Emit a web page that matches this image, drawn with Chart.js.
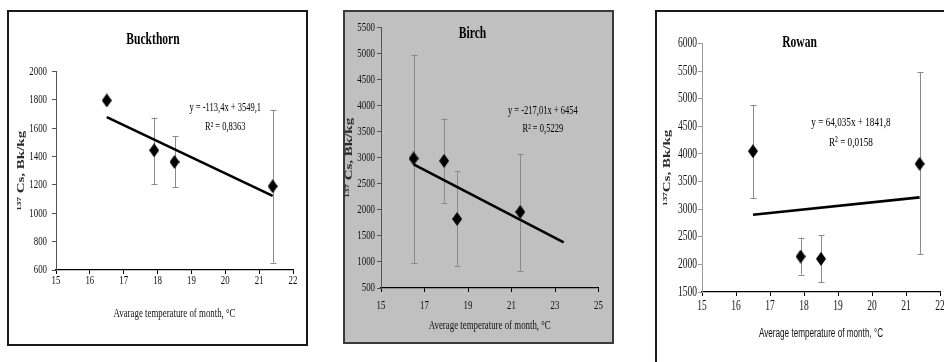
<!DOCTYPE html>
<html>
<head>
<meta charset="utf-8">
<script src="https://cdn.jsdelivr.net/npm/chart.js@4.4.1/dist/chart.umd.min.js"></script>
<style>
  html, body { margin: 0; padding: 0; background: #fff; width: 944px; height: 362px; overflow: hidden; }
  .panel { position: absolute; box-sizing: content-box; }
  .panel canvas { display: block; }
  #p1 { left: 7px; top: 10px; border: 2px solid #1a1a1a; background: #fff; }
  #p2 { left: 343px; top: 10px; border: 2px solid #3a3a3a; background: #c0c0c0; }
  #p3 { left: 655px; top: 10px; border: 2px solid #1a1a1a; border-bottom: none; border-right: none; background: #fff; }
</style>
</head>
<body>
<div class="panel" id="p1"><canvas id="c1" width="297" height="332"></canvas></div>
<div class="panel" id="p2"><canvas id="c2" width="267" height="330"></canvas></div>
<div class="panel" id="p3"><canvas id="c3" width="300" height="370"></canvas></div>
<script>
// ---------------- data ----------------
const temps = [16.5, 17.9, 18.5, 21.4];

const buckthornCs      = [1795, 1444, 1362, 1190];
const buckthornErrLow  = [null, 1205, 1182, 651];
const buckthornErrHigh = [null, 1674, 1545, 1726];

const birchCs      = [2985, 2940, 1825, 1960];
const birchErrLow  = [977, 2136, 913, 830];
const birchErrHigh = [4978, 3750, 2748, 3065];

const rowanCs      = [4048, 2142, 2100, 3820];
const rowanErrLow  = [3199, 1814, 1680, 2181];
const rowanErrHigh = [4887, 2484, 2524, 5476];

// trend lines as printed on the charts: y = slope * x + intercept
const trendSlope     = [-113.4, -217.01, 64.035];
const trendIntercept = [3549.1, 6454, 1841.8];
const trendFrom      = [16.5, 16.5, 16.5];
const trendTo        = [21.4, 23.4, 21.4];

const equationText = [
  ['y = -113,4x + 3549,1', 'R\u00B2 = 0,8363'],
  ['y = -217,01x + 6454', 'R\u00B2 = 0,5229'],
  ['y = 64,035x + 1841,8', 'R\u00B2 = 0,0158']
];

const titles = ['Buckthorn', 'Birch', 'Rowan'];
const xTitles = ['Avarage temperature of month, \u00B0C', 'Average temperature of month, \u00B0C', 'Average temperature of month, \u00B0C'];
const yTitles = ['\u00B9\u00B3\u2077 Cs, Bk/kg', '\u00B9\u00B3\u2077 Cs, Bk/kg', '\u00B9\u00B3\u2077Cs, Bk/kg'];

const buckthornXTicks = [15, 16, 17, 18, 19, 20, 21, 22];
const buckthornYTicks = [600, 800, 1000, 1200, 1400, 1600, 1800, 2000];
const birchXTicks = [15, 17, 19, 21, 23, 25];
const birchYTicks = [500, 1000, 1500, 2000, 2500, 3000, 3500, 4000, 4500, 5000, 5500];
const rowanXTicks = [15, 16, 17, 18, 19, 20, 21, 22];
const rowanYTicks = [1500, 2000, 2500, 3000, 3500, 4000, 4500, 5000, 5500, 6000];

// ---------------- helpers ----------------
const SX = 0.68; // the source figure is horizontally squeezed
function squeezeText(canvas) {
  const ctx = canvas.getContext('2d');
  const orig = ctx.fillText.bind(ctx);
  ctx.fillText = function (t, x, y, mw) {
    const m = this.getTransform();
    const rotated = Math.abs(m.b) > Math.abs(m.a);
    this.save();
    this.translate(x, y);
    if (rotated) this.scale(1, SX); else this.scale(SX, 1);
    if (mw !== undefined && !rotated) orig(t, 0, 0, mw / SX);
    else if (mw !== undefined) orig(t, 0, 0, mw);
    else orig(t, 0, 0);
    this.restore();
  };
}

function diamond(w, h) {
  const c = document.createElement('canvas');
  c.width = w; c.height = h;
  const g = c.getContext('2d');
  g.fillStyle = '#000';
  g.beginPath();
  g.moveTo(w / 2, 0); g.lineTo(w, h / 2); g.lineTo(w / 2, h); g.lineTo(0, h / 2);
  g.closePath(); g.fill();
  return c;
}
const diamondImg = diamond(10, 14);

const errorBarsPlugin = {
  id: 'errorBars',
  beforeDatasetsDraw(chart) {
    const o = chart.options.plugins.errorBars;
    if (!o) return;
    const { ctx, scales: { x, y } } = chart;
    ctx.save();
    ctx.strokeStyle = o.color;
    ctx.lineWidth = 1;
    for (let i = 0; i < o.xs.length; i++) {
      if (o.lo[i] == null || o.hi[i] == null) continue;
      const px = Math.round(x.getPixelForValue(o.xs[i])) + 0.5;
      const pt = y.getPixelForValue(o.hi[i]);
      const pb = y.getPixelForValue(o.lo[i]);
      ctx.beginPath();
      ctx.moveTo(px, pt); ctx.lineTo(px, pb);
      ctx.moveTo(px - o.cap, Math.round(pt) + 0.5); ctx.lineTo(px + o.cap, Math.round(pt) + 0.5);
      ctx.moveTo(px - o.cap, Math.round(pb) + 0.5); ctx.lineTo(px + o.cap, Math.round(pb) + 0.5);
      ctx.stroke();
    }
    ctx.restore();
  }
};

const equationPlugin = {
  id: 'equation',
  afterDatasetsDraw(chart) {
    const o = chart.options.plugins.equation;
    if (!o) return;
    const { ctx, scales: { x, y } } = chart;
    const px = x.getPixelForValue(o.at[0]);
    const py = y.getPixelForValue(o.at[1]);
    ctx.save();
    ctx.fillStyle = '#000';
    ctx.font = o.font;
    ctx.textAlign = 'center';
    ctx.textBaseline = 'middle';
    o.lines.forEach((t, i) => ctx.fillText(t, px, py + i * o.gap));
    ctx.restore();
  }
};

const SERIF = "'Liberation Serif', 'Times New Roman', serif";

function buildChart(canvasId, cfg) {
  const canvas = document.getElementById(canvasId);
  squeezeText(canvas);
  const i = cfg.index;
  const trend = [trendFrom[i], trendTo[i]].map(v => ({ x: v, y: trendSlope[i] * v + trendIntercept[i] }));
  const pts = temps.map((t, k) => ({ x: t, y: cfg.values[k] }));
  return new Chart(canvas, {
    type: 'scatter',
    data: {
      datasets: [
        {
          type: 'line', data: trend, borderColor: '#000', borderWidth: 2.6,
          pointRadius: 0, fill: false, tension: 0, order: 2
        },
        {
          data: pts, pointStyle: diamondImg, pointRadius: 7, pointHoverRadius: 7,
          backgroundColor: '#000', borderColor: '#000', order: 1
        }
      ]
    },
    options: {
      responsive: false,
      animation: false,
      devicePixelRatio: 1,
      events: [],
      layout: { padding: cfg.padding },
      plugins: {
        legend: { display: false },
        tooltip: { enabled: false },
        title: {
          display: true, text: titles[i], color: '#000',
          font: { family: SERIF, size: 17, weight: 'bold', lineHeight: 1.2 },
          padding: cfg.titlePad
        },
        errorBars: { xs: temps, lo: cfg.lo, hi: cfg.hi, color: '#8a8a8a', cap: 3 },
        equation: { lines: equationText[i], at: cfg.eqAt, gap: cfg.eqGap, font: cfg.eqFont }
      },
      scales: {
        x: {
          type: 'linear',
          min: cfg.xTicks[0], max: cfg.xTicks[cfg.xTicks.length - 1],
          afterBuildTicks: s => { s.ticks = cfg.xTicks.map(v => ({ value: v })); },
          border: { color: '#000', width: 1.3 },
          grid: { display: true, drawOnChartArea: false, drawTicks: true, tickLength: 4, color: '#000' },
          ticks: {
            color: '#111', padding: cfg.xTickPad, maxRotation: 0, autoSkip: false,
            callback: v => String(v),
            font: { family: SERIF, size: cfg.tickSize, lineHeight: 1 }
          },
          title: {
            display: true, text: xTitles[i], color: '#111', padding: 0,
            font: { family: cfg.xTitleFamily, size: cfg.xTitleSize, lineHeight: 1.2 }
          },
          afterFit: s => { s.height = cfg.xHeight; }
        },
        y: {
          type: 'linear',
          min: cfg.yTicks[0], max: cfg.yTicks[cfg.yTicks.length - 1],
          afterBuildTicks: s => { s.ticks = cfg.yTicks.map(v => ({ value: v })); },
          border: { color: cfg.yAxisColor, width: 1 },
          grid: { display: true, drawOnChartArea: false, drawTicks: true, tickLength: 4, color: cfg.yAxisColor },
          ticks: {
            color: '#111', padding: cfg.yTickPad,
            callback: v => String(v),
            font: { family: SERIF, size: cfg.tickSize, lineHeight: 1 }
          },
          title: {
            display: true, text: yTitles[i], color: '#2a2a2a', padding: { top: cfg.yTitlePad, bottom: 0 },
            font: { family: SERIF, size: 15, weight: 'bold', lineHeight: 1.1 }
          },
          afterFit: s => { s.width = cfg.yWidth; }
        }
      }
    },
    plugins: [errorBarsPlugin, equationPlugin]
  });
}

buildChart('c1', {
  index: 0, values: buckthornCs, lo: buckthornErrLow, hi: buckthornErrHigh,
  xTicks: buckthornXTicks, yTicks: buckthornYTicks,
  padding: { left: 4, right: 13, top: 0, bottom: 23 },
  titlePad: { top: 17, bottom: 22 },
  yWidth: 43, xHeight: 51, xTickPad: 0, yTickPad: 5, tickSize: 13, yTitlePad: 0,
  yAxisColor: '#555',
  xTitleFamily: SERIF, xTitleSize: 13,
  eqAt: [20.0, 1747], eqGap: 19, eqFont: "12.5px 'Liberation Serif', serif"
});

buildChart('c2', {
  index: 1, values: birchCs, lo: birchErrLow, hi: birchErrHigh,
  xTicks: birchXTicks, yTicks: birchYTicks,
  padding: { left: 0, right: 12, top: 0, bottom: 9 },
  titlePad: { top: 11, bottom: -16 },
  yWidth: 36, xHeight: 45, xTickPad: 7, yTickPad: 2, tickSize: 13, yTitlePad: -3.5,
  yAxisColor: '#555',
  xTitleFamily: SERIF, xTitleSize: 13,
  eqAt: [22.44, 3910], eqGap: 18, eqFont: "12.5px 'Liberation Serif', serif"
});

buildChart('c3', {
  index: 2, values: rowanCs, lo: rowanErrLow, hi: rowanErrHigh,
  xTicks: rowanXTicks, yTicks: rowanYTicks,
  padding: { left: 2, right: 17, top: 0, bottom: 41 },
  titlePad: { top: 20, bottom: -9 },
  yWidth: 43, xHeight: 49, xTickPad: 3, yTickPad: 1, tickSize: 14, yTitlePad: 0,
  yAxisColor: '#9a9a9a',
  xTitleFamily: "'Liberation Sans', Arial, sans-serif", xTitleSize: 12,
  eqAt: [19.38, 4572], eqGap: 20, eqFont: "13.5px 'Liberation Serif', serif"
});
</script>
</body>
</html>
